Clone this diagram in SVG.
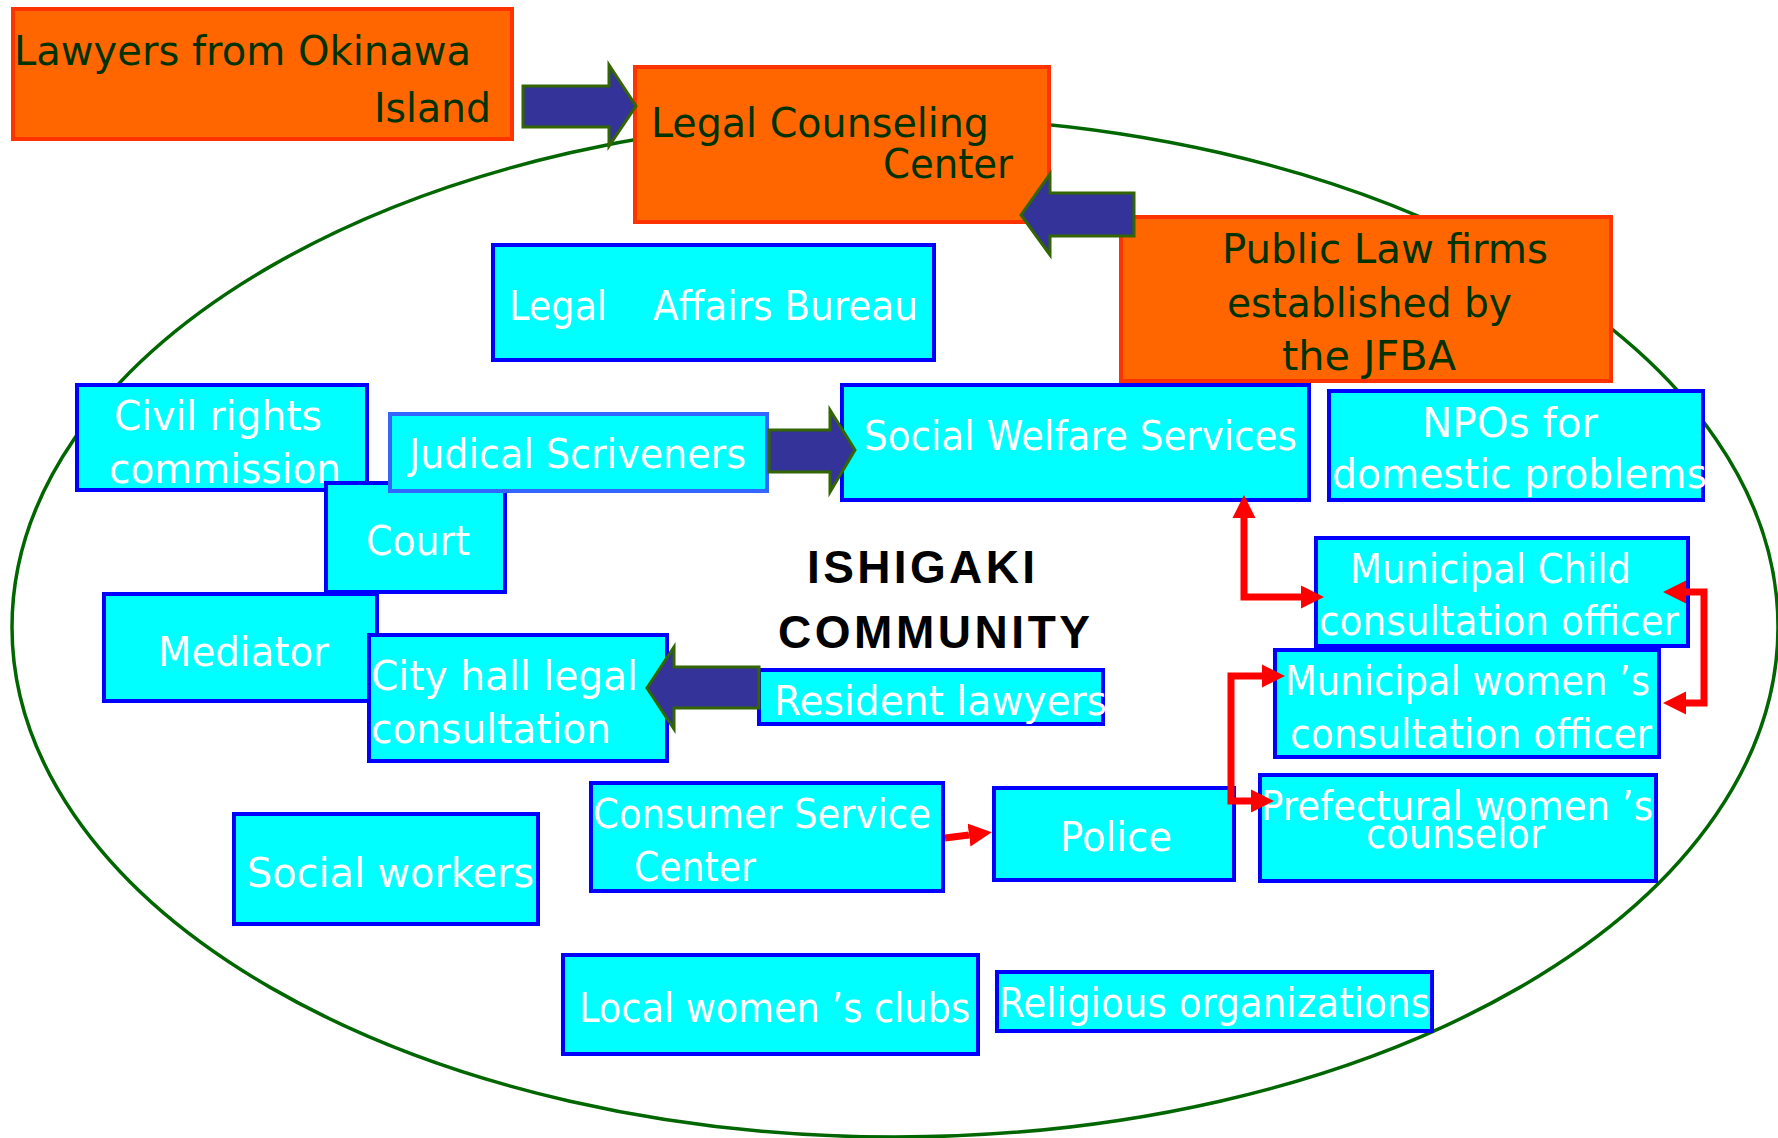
<svg xmlns="http://www.w3.org/2000/svg" width="1778" height="1138" viewBox="0 0 1778 1138">
<style>
.org{fill:#FF6600;stroke:#FF3300;stroke-width:4}
.cy{fill:#00FFFF;stroke:#0000FF;stroke-width:4}
.cy2{fill:#00FFFF;stroke:#3366FF;stroke-width:4}
text{font-family:"DejaVu Sans","Noto Sans CJK JP",sans-serif;font-size:41px}
.w{fill:#FFFFFF}
.g{fill:#003300}
.big{font-family:"Liberation Sans",Arial,sans-serif;font-weight:bold;font-size:46px;fill:#000000}
.blk{fill:#333399;stroke:#336600;stroke-width:3;stroke-linejoin:miter}
.red{fill:none;stroke:#FF0000;stroke-width:7;stroke-linejoin:miter;stroke-linecap:butt}
</style>
<defs>
<marker id="ra" viewBox="0 -12 24 24" refX="0" refY="0" markerWidth="24" markerHeight="24" markerUnits="userSpaceOnUse" orient="auto-start-reverse">
<path d="M0,-11.5 L23,0 L0,11.5 Z" fill="#FF0000"/>
</marker>
</defs>
<rect width="1778" height="1138" fill="#FFFFFF"/>
<ellipse id="community" cx="895" cy="627" rx="883" ry="510" fill="none" stroke="#006600" stroke-width="3.5"/>

<g id="lawyers-okinawa"><rect class="org" x="13" y="9" width="499" height="130"/>
<text class="g" x="14" y="65" font-size="43" textLength="457" lengthAdjust="spacingAndGlyphs">Lawyers from Okinawa</text>
<text class="g" x="374" y="122" font-size="43" textLength="117" lengthAdjust="spacingAndGlyphs">Island</text></g>

<g id="legal-counseling"><rect class="org" x="635" y="67" width="414" height="155"/>
<text class="g" x="651" y="137" textLength="338" lengthAdjust="spacingAndGlyphs">Legal Counseling</text>
<text class="g" x="883" y="178" textLength="130" lengthAdjust="spacingAndGlyphs">Center</text></g>

<g id="public-law"><rect class="org" x="1121" y="217" width="490" height="164"/>
<text class="g" x="1222" y="263" textLength="326" lengthAdjust="spacingAndGlyphs">Public Law firms</text>
<text class="g" x="1227" y="317" textLength="285" lengthAdjust="spacingAndGlyphs">established by</text>
<text class="g" x="1282" y="370" textLength="174" lengthAdjust="spacingAndGlyphs">the JFBA</text></g>

<g id="legal-affairs"><rect class="cy" x="493" y="245" width="441" height="115"/>
<text class="w" y="320"><tspan x="509" textLength="98" lengthAdjust="spacingAndGlyphs">Legal</tspan> <tspan x="653" textLength="265" lengthAdjust="spacingAndGlyphs">Affairs Bureau</tspan></text></g>

<g id="civil-rights"><rect class="cy" x="77" y="385" width="290" height="105"/>
<text class="w" x="114" y="430" textLength="208" lengthAdjust="spacingAndGlyphs">Civil rights</text>
<text class="w" x="109" y="483" textLength="232" lengthAdjust="spacingAndGlyphs">commission</text></g>

<g id="court"><rect class="cy" x="326" y="483" width="179" height="109"/>
<text class="w" x="366" y="555" textLength="104" lengthAdjust="spacingAndGlyphs">Court</text></g>

<g id="judicial"><rect class="cy2" x="390" y="414" width="377" height="77"/>
<text class="w" x="409" y="468" textLength="337" lengthAdjust="spacingAndGlyphs">Judical Scriveners</text></g>

<g id="mediator"><rect class="cy" x="104" y="594" width="273" height="107"/>
<text class="w" x="158" y="666" textLength="171" lengthAdjust="spacingAndGlyphs">Mediator</text></g>

<g id="city-hall"><rect class="cy" x="369" y="635" width="298" height="126"/>
<text class="w" x="371" y="690" textLength="267" lengthAdjust="spacingAndGlyphs">City hall legal</text>
<text class="w" x="371" y="743" textLength="240" lengthAdjust="spacingAndGlyphs">consultation</text></g>

<g id="social-welfare"><rect class="cy" x="842" y="385" width="467" height="115"/>
<text class="w" x="864" y="450" textLength="433" lengthAdjust="spacingAndGlyphs">Social Welfare Services</text></g>

<g id="npos"><rect class="cy" x="1329" y="391" width="374" height="109"/>
<text class="w" x="1422" y="437" textLength="176" lengthAdjust="spacingAndGlyphs">NPOs for</text>
<text class="w" x="1332" y="488" textLength="375" lengthAdjust="spacingAndGlyphs">domestic problems</text></g>

<g id="municipal-child"><rect class="cy" x="1316" y="538" width="372" height="108"/>
<text class="w" x="1350" y="583" textLength="281" lengthAdjust="spacingAndGlyphs">Municipal Child</text>
<text class="w" x="1319" y="635" textLength="360" lengthAdjust="spacingAndGlyphs">consultation officer</text></g>

<g id="municipal-women"><rect class="cy" x="1275" y="650" width="384" height="107"/>
<text class="w" x="1285" y="695" textLength="365" lengthAdjust="spacingAndGlyphs">Municipal women ’s</text>
<text class="w" x="1290" y="748" textLength="362" lengthAdjust="spacingAndGlyphs">consultation officer</text></g>

<g id="prefectural-women"><rect class="cy" x="1260" y="775" width="396" height="106"/>
<text class="w" x="1261" y="820" textLength="392" lengthAdjust="spacingAndGlyphs">Prefectural women ’s</text>
<text class="w" x="1366" y="848" textLength="179" lengthAdjust="spacingAndGlyphs">counselor</text></g>

<g id="resident-lawyers"><rect class="cy" x="759" y="670" width="344" height="54"/>
<text class="w" x="774" y="715" textLength="333" lengthAdjust="spacingAndGlyphs">Resident lawyers</text></g>

<g id="consumer-service"><rect class="cy" x="591" y="783" width="352" height="108"/>
<text class="w" x="593" y="828" textLength="338" lengthAdjust="spacingAndGlyphs">Consumer Service</text>
<text class="w" x="634" y="881" textLength="122" lengthAdjust="spacingAndGlyphs">Center</text></g>

<g id="police"><rect class="cy" x="994" y="788" width="240" height="92"/>
<text class="w" x="1060" y="851" textLength="112" lengthAdjust="spacingAndGlyphs">Police</text></g>

<g id="social-workers"><rect class="cy" x="234" y="814" width="304" height="110"/>
<text class="w" x="247" y="887" textLength="287" lengthAdjust="spacingAndGlyphs">Social workers</text></g>

<g id="local-women"><rect class="cy" x="563" y="955" width="415" height="99"/>
<text class="w" x="579" y="1022" textLength="391" lengthAdjust="spacingAndGlyphs">Local women ’s clubs</text></g>

<g id="religious"><rect class="cy" x="997" y="972" width="435" height="59"/>
<text class="w" x="999" y="1017" textLength="431" lengthAdjust="spacingAndGlyphs">Religious organizations</text></g>

<g id="title">
<text class="big" x="807" y="583" textLength="228">ISHIGAKI</text>
<text class="big" x="778" y="648" textLength="312">COMMUNITY</text></g>

<g id="connectors">
<polygon class="blk" points="523,86 609,86 609,65 636,106 609,146 609,127 523,127"/>
<polygon class="blk" points="1134,193 1050,193 1050,174 1021,215 1050,255 1050,236 1134,236"/>
<polygon class="blk" points="769,430 830,430 830,410 855,450 830,492 830,472 769,472"/>
<polygon class="blk" points="759,667 674,667 674,647 647,688 674,729 674,708 759,708"/>
<path class="red" d="M1244,518 V597 H1301" marker-start="url(#ra)" marker-end="url(#ra)"/>
<path class="red" d="M1686,592 H1704 V703 H1686" marker-start="url(#ra)" marker-end="url(#ra)"/>
<path class="red" d="M1262,676 H1231 V801 H1251" marker-start="url(#ra)" marker-end="url(#ra)"/>
<path class="red" d="M945,838 L969,835" marker-end="url(#ra)"/>
</g>
</svg>
